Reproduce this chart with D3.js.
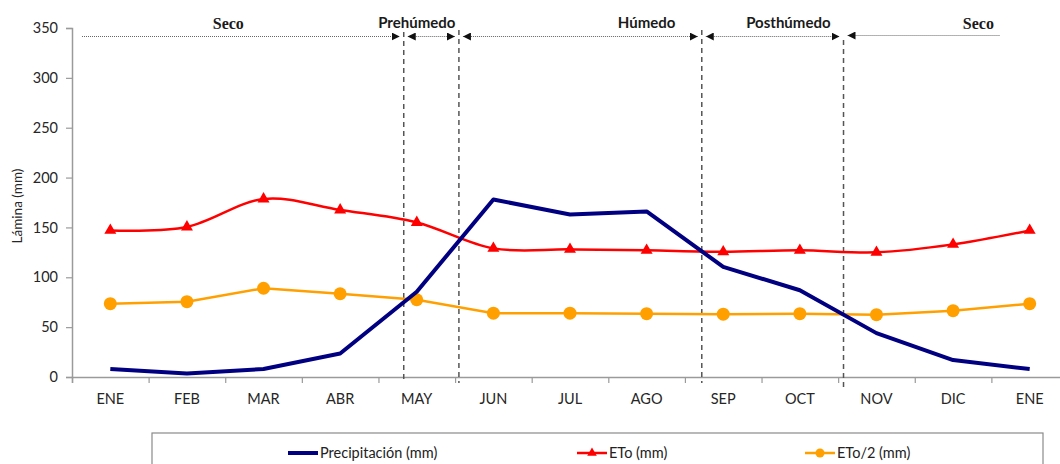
<!DOCTYPE html>
<html>
<head>
<meta charset="utf-8">
<script src="https://cdn.jsdelivr.net/npm/d3@7/dist/d3.min.js"></script>
<style>
  html, body { margin: 0; padding: 0; background: #fff; }
  svg { display: block; }
</style>
</head>
<body>
<svg id="chart" width="1060" height="464"></svg>
<script>
// Monthly water balance: precipitation vs reference evapotranspiration
const months = ["ENE", "FEB", "MAR", "ABR", "MAY", "JUN", "JUL", "AGO", "SEP", "OCT", "NOV", "DIC", "ENE"];
const precipitacion = [8, 3.5, 8, 23.5, 85.5, 178, 163, 166, 110.5, 87, 44, 17, 8];
const eto = [147, 150.5, 178.5, 167.5, 155, 129, 128, 127, 125.5, 127, 125, 133, 147];
const etoMedio = [73.5, 75.5, 89, 83.5, 77.5, 64, 64, 63.5, 63, 63.5, 62.5, 66.5, 73.5];
const yTicks = [0, 50, 100, 150, 200, 250, 300, 350];

// Season boundaries (in month index units, where the curves cross)
const boundaries = [3.83, 4.55, 7.72, 9.57];
const periods = ["Seco", "Prehúmedo", "Húmedo", "Posthúmedo", "Seco"];
const periodLabelAt = [1.54, 4.0, 7.0, 8.85, 11.33];

const seriesNames = ["Precipitación (mm)", "ETo (mm)", "ETo/2 (mm)"];

const svg = d3.select("#chart");
const plotLeft = 72, plotRight = 1068, plotTop = 28, plotBottom = 377;

const x = d3.scaleLinear().domain([-0.5, months.length - 0.5]).range([plotLeft, plotRight]);
const y = d3.scaleLinear().domain([0, 350]).range([plotBottom, plotTop]);

const axisColor = "#9a9a9a";
const textColor = "#262626";
const sans = "Lato, 'Open Sans', sans-serif";

// Y axis
const yAxis = d3.axisLeft(y).tickValues(yTicks).tickSize(6).tickPadding(8);
const gy = svg.append("g").attr("transform", `translate(${plotLeft},0)`).call(yAxis);
gy.select(".domain").attr("stroke", axisColor).attr("stroke-width", 1.5);
gy.selectAll(".tick line").attr("stroke", axisColor).attr("stroke-width", 1.2);
gy.selectAll(".tick text").attr("fill", textColor).style("font-family", sans).style("font-size", "14.5px");

// X axis: tick marks between categories, labels at category centres
const boundaryTicks = d3.range(-0.5, months.length, 1);
const xAxis = d3.axisBottom(x).tickValues(boundaryTicks).tickSize(6).tickFormat("");
const gx = svg.append("g").attr("transform", `translate(0,${plotBottom})`).call(xAxis);
gx.select(".domain").attr("stroke", axisColor).attr("stroke-width", 1.5);
gx.selectAll(".tick line").attr("stroke", axisColor).attr("stroke-width", 1.2);

svg.append("g").selectAll("text").data(months).join("text")
  .attr("x", (d, i) => x(i))
  .attr("y", 404)
  .attr("text-anchor", "middle")
  .attr("fill", textColor)
  .style("font-family", sans).style("font-size", "14.5px")
  .text(d => d);

// Y axis title
svg.append("text")
  .attr("transform", "translate(22,206) rotate(-90)")
  .attr("text-anchor", "middle")
  .attr("fill", textColor)
  .style("font-family", sans).style("font-size", "13.5px")
  .text("Lámina (mm)");

// Season boundary lines
const boundaryExtent = [[32, 383], [30, 383], [30, 383], [40, 390]];
svg.append("g").selectAll("line").data(boundaries).join("line")
  .attr("x1", d => x(d)).attr("x2", d => x(d))
  .attr("y1", (d, i) => boundaryExtent[i][0])
  .attr("y2", (d, i) => boundaryExtent[i][1])
  .attr("stroke", "#555").attr("stroke-width", 1.5)
  .attr("stroke-dasharray", "5,4");

// Season arrows across the top
const defs = svg.append("defs");
defs.append("marker").attr("id", "arrowEnd")
  .attr("viewBox", "0 0 10 10").attr("refX", 10).attr("refY", 5)
  .attr("markerWidth", 8).attr("markerHeight", 8).attr("markerUnits", "userSpaceOnUse")
  .attr("orient", "auto")
  .append("path").attr("d", "M0,0L10,5L0,10Z").attr("fill", "#111");
defs.append("marker").attr("id", "arrowStart")
  .attr("viewBox", "0 0 10 10").attr("refX", 0).attr("refY", 5)
  .attr("markerWidth", 8).attr("markerHeight", 8).attr("markerUnits", "userSpaceOnUse")
  .attr("orient", "auto")
  .append("path").attr("d", "M10,0L0,5L10,10Z").attr("fill", "#111");

const gap = 4;
const spans = periods.map((p, i) => {
  const x0 = i === 0 ? plotLeft + 10 : x(boundaries[i - 1]) + gap;
  const x1 = i === periods.length - 1 ? 1000 : x(boundaries[i]) - gap;
  return { name: p, x0, x1, first: i === 0, last: i === periods.length - 1, at: periodLabelAt[i] };
});

const ga = svg.append("g");
spans.forEach(s => {
  const yy = s.last ? 35.5 : 36.5;
  ga.append("line")
    .attr("x1", s.x0).attr("x2", s.x1).attr("y1", yy).attr("y2", yy)
    .attr("stroke", "#666").attr("stroke-width", 1)
    .attr("stroke-dasharray", "1,1")
    .attr("marker-start", s.first ? null : "url(#arrowStart)")
    .attr("marker-end", s.last ? null : "url(#arrowEnd)");
  const serif = s.name === "Seco";
  ga.append("text")
    .attr("x", x(s.at)).attr("y", serif ? 29 : 28)
    .attr("text-anchor", "middle")
    .attr("fill", "#1a1a1a")
    .style("font-family", serif ? "'Liberation Serif', serif" : sans)
    .style("font-weight", "bold")
    .style("font-size", serif ? "16px" : "15px")
    .text(s.name);
});

// Series
const colPrec = "#000080", colEto = "#ff0000", colEto2 = "#ffa000";

const linePlain = d3.line().x((d, i) => x(i)).y(d => y(d));
const lineSmooth = d3.line().x((d, i) => x(i)).y(d => y(d)).curve(d3.curveCardinal.tension(0));

svg.append("path").datum(etoMedio)
  .attr("d", linePlain).attr("fill", "none")
  .attr("stroke", colEto2).attr("stroke-width", 2.5);
svg.append("g").selectAll("circle").data(etoMedio).join("circle")
  .attr("cx", (d, i) => x(i)).attr("cy", d => y(d)).attr("r", 6.5)
  .attr("fill", colEto2);

svg.append("path").datum(eto)
  .attr("d", lineSmooth).attr("fill", "none")
  .attr("stroke", colEto).attr("stroke-width", 2.5);
const tri = d3.symbol().type(d3.symbolTriangle).size(62);
svg.append("g").selectAll("path").data(eto).join("path")
  .attr("d", tri)
  .attr("transform", (d, i) => `translate(${x(i)},${y(d)})`)
  .attr("fill", colEto);

svg.append("path").datum(precipitacion)
  .attr("d", linePlain).attr("fill", "none")
  .attr("stroke", colPrec).attr("stroke-width", 4)
  .attr("stroke-linejoin", "round");

// Legend
const lg = svg.append("g");
lg.append("rect").attr("x", 152).attr("y", 433).attr("width", 891).attr("height", 60)
  .attr("fill", "#fff").attr("stroke", "#8a8a8a").attr("stroke-width", 1.2);
const legendX = [288, 577, 805];
const legendColors = [colPrec, colEto, colEto2];
seriesNames.forEach((name, i) => {
  const lx = legendX[i];
  lg.append("line").attr("x1", lx).attr("x2", lx + 30).attr("y1", 453).attr("y2", 453)
    .attr("stroke", legendColors[i]).attr("stroke-width", i === 0 ? 4 : 2.5);
  if (i === 1) {
    lg.append("path").attr("d", d3.symbol().type(d3.symbolTriangle).size(40))
      .attr("transform", `translate(${lx + 15},453)`).attr("fill", colEto);
  }
  if (i === 2) {
    lg.append("circle").attr("cx", lx + 15).attr("cy", 453).attr("r", 4.5).attr("fill", colEto2);
  }
  lg.append("text").attr("x", lx + 32).attr("y", 458)
    .attr("fill", "#222")
    .style("font-family", sans).style("font-size", "14.5px")
    .text(name);
});
</script>
</body>
</html>
